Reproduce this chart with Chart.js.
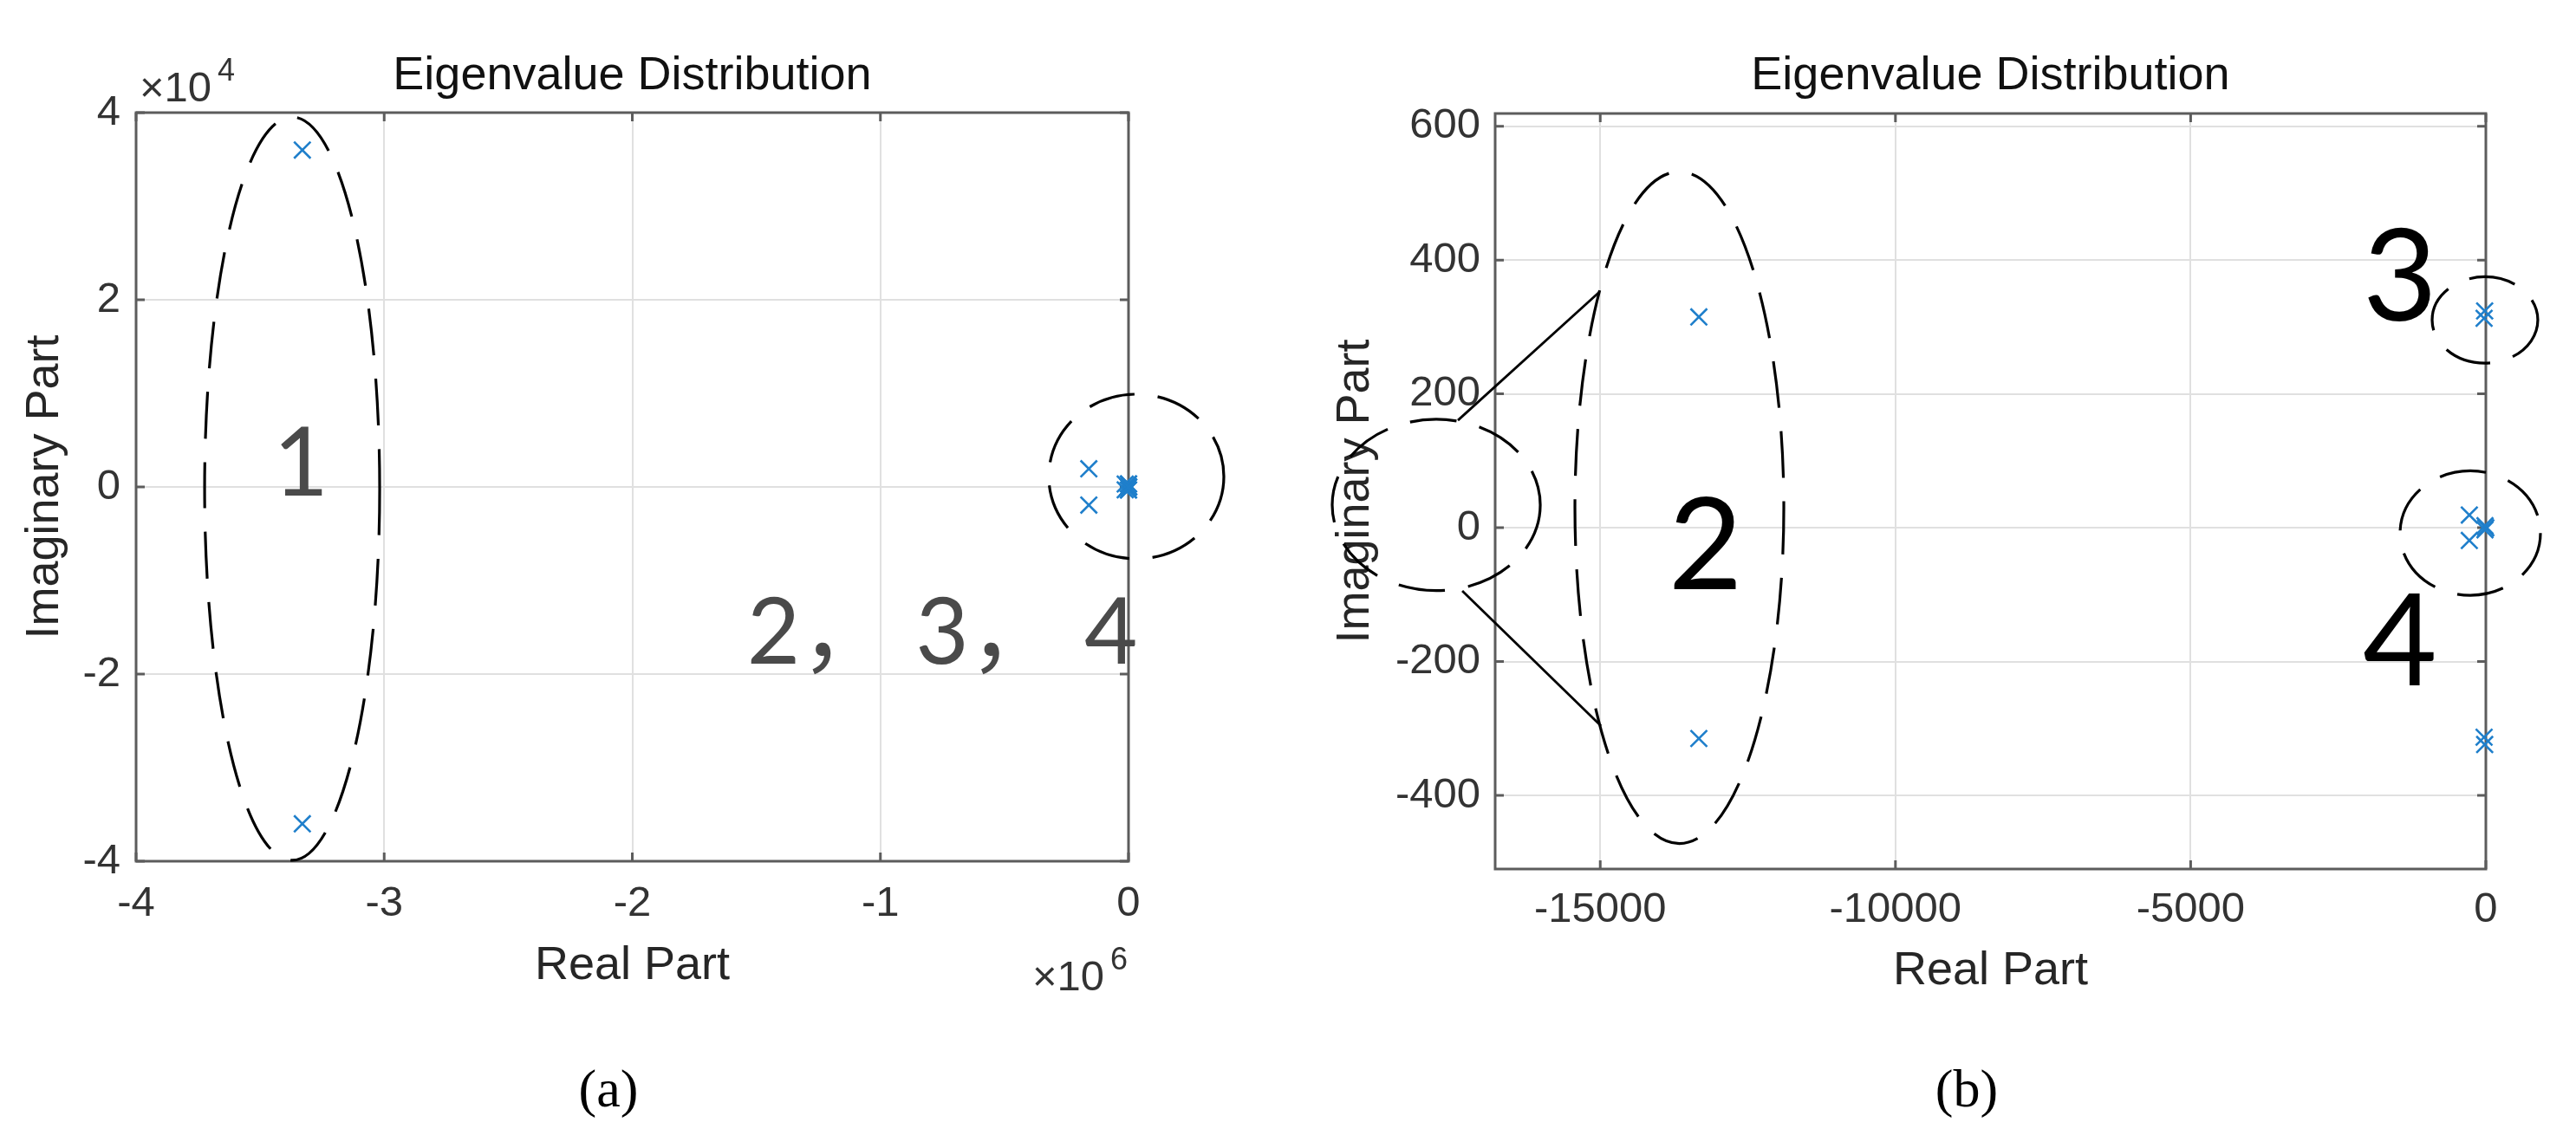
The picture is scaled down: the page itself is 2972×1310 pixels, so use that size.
<!DOCTYPE html>
<html>
<head>
<meta charset="utf-8">
<script src="https://cdn.jsdelivr.net/npm/chart.js@4.4.1/dist/chart.umd.min.js"></script>
<style>
  html, body { margin: 0; padding: 0; background: #fff; }
  body { width: 2972px; height: 1310px; position: relative; overflow: hidden; }
  canvas { position: absolute; top: 0; }
  #chartA { left: 0; }
  #chartB { left: 1480px; }
  .caption { position: absolute; top: 1225px; font: 62px/62px "Liberation Serif", "Times New Roman", serif; color: #000; transform: translateX(-50%); white-space: nowrap; }
</style>
</head>
<body>
<canvas id="chartA" width="1480" height="1200"></canvas>
<canvas id="chartB" width="1492" height="1200"></canvas>
<div class="caption" style="left:702px">(a)</div>
<div class="caption" style="left:2269px">(b)</div>
<script>
// eigenvalues (b is a zoom of the cluster near 0 in a)
const eigReal = [-3.33e6, -3.33e6, -1.6e5, -1.6e5, -13330, -13330, -30, -30, -20, -20, -280, -280, 0, -15, -15];
const eigImag = [36000, -36000, 1940, -1940, 315, -315, 313, -313, 324, -324, 19, -19, 0, 3, -3];

const ticksAx = [-4e6, -3e6, -2e6, -1e6, 0];
const ticksAy = [-4e4, -2e4, 0, 2e4, 4e4];
const ticksBx = [-15000, -10000, -5000, 0];
const ticksBy = [-400, -200, 0, 200, 400, 600];

const FONT = '"Liberation Sans", Arial, sans-serif';
const points = eigReal.map((re, i) => ({ x: re, y: eigImag[i] }));

// box, inward ticks, dashed rings, labels and exponents
const overlay = {
  id: 'overlay',
  beforeDatasetsDraw(chart) {
    const { ctx, chartArea: a, scales: { x, y } } = chart;
    ctx.save();
    ctx.strokeStyle = '#5c5c5c';
    ctx.lineWidth = 3;
    ctx.beginPath();
    x.ticks.forEach(t => {
      const p = x.getPixelForValue(t.value);
      ctx.moveTo(p, a.top); ctx.lineTo(p, a.top + 10);
      ctx.moveTo(p, a.bottom); ctx.lineTo(p, a.bottom - 10);
    });
    y.ticks.forEach(t => {
      const p = y.getPixelForValue(t.value);
      ctx.moveTo(a.left, p); ctx.lineTo(a.left + 10, p);
      ctx.moveTo(a.right, p); ctx.lineTo(a.right - 10, p);
    });
    ctx.stroke();
    ctx.strokeRect(a.left, a.top, a.right - a.left, a.bottom - a.top);
    ctx.restore();
  },
  afterDraw(chart, args, o) {
    const { ctx, chartArea: a, scales: { x, y } } = chart;
    ctx.save();
    ctx.strokeStyle = '#000';
    ctx.lineWidth = 3.2;
    ctx.setLineDash([54, 27]);
    (o.rings || []).forEach(r => {
      const cx = x.getPixelForValue(r.x), cy = y.getPixelForValue(r.y);
      const rx = Math.abs(x.getPixelForValue(r.x + r.rx) - cx);
      const ry = Math.abs(y.getPixelForValue(r.y + r.ry) - cy);
      ctx.beginPath();
      ctx.ellipse(cx, cy, rx, ry, 0, 0, Math.PI * 2);
      ctx.stroke();
    });
    ctx.setLineDash([]);
    ctx.lineWidth = 2.8;
    (o.leaders || []).forEach(l => {
      ctx.beginPath();
      ctx.moveTo(x.getPixelForValue(l.x1), y.getPixelForValue(l.y1));
      ctx.lineTo(x.getPixelForValue(l.x2), y.getPixelForValue(l.y2));
      ctx.stroke();
    });
    ctx.textAlign = 'center';
    ctx.textBaseline = 'alphabetic';
    (o.labels || []).forEach(t => {
      ctx.font = t.font;
      ctx.fillStyle = t.color;
      ctx.fillText(t.text, x.getPixelForValue(t.x), y.getPixelForValue(t.y));
    });
    ctx.textAlign = 'left';
    ctx.fillStyle = '#333';
    (o.exps || []).forEach(e => {
      const bx = (e.side === 'left' ? a.left : a.right) + e.dx;
      const by = (e.edge === 'top' ? a.top : a.bottom) + e.dy;
      ctx.font = '49px ' + FONT;
      ctx.fillText('×10', bx, by);
      const w = ctx.measureText('×10').width;
      ctx.font = '36px ' + FONT;
      ctx.fillText(e.pow, bx + w + 7, by - 24);
    });
    ctx.restore();
  }
};

function makeChart(id, s) {
  const tickFont = { family: FONT, size: 49 };
  const labelFont = { family: FONT, size: 54 };
  return new Chart(document.getElementById(id), {
    type: 'scatter',
    data: {
      datasets: [{
        data: points,
        pointStyle: 'crossRot',
        pointRadius: 13.5,
        pointHoverRadius: 13.5,
        borderColor: '#1f7fcb',
        pointBorderWidth: 2.6,
        clip: 14
      }]
    },
    options: {
      responsive: false,
      animation: false,
      devicePixelRatio: 1,
      layout: { padding: s.pad },
      plugins: {
        legend: { display: false },
        tooltip: { enabled: false },
        title: {
          display: true,
          text: 'Eigenvalue Distribution',
          fullSize: false,
          color: '#111',
          font: { family: FONT, size: 54, weight: 'normal' },
          padding: { top: 56, bottom: s.titleGap }
        },
        overlay: s.notes
      },
      scales: {
        x: {
          type: 'linear',
          min: s.xMin, max: s.xMax,
          afterBuildTicks: sc => { sc.ticks = s.xTicks.map(v => ({ value: v })); },
          afterFit: sc => { sc.height = s.xH; },
          grid: { color: '#e0e0e0', lineWidth: 2, drawTicks: false },
          border: { display: false },
          ticks: { padding: s.xPad, color: '#333', font: tickFont, maxRotation: 0, callback: v => String(v / s.xDiv) },
          title: { display: true, text: 'Real Part', color: '#262626', font: labelFont, padding: 0 }
        },
        y: {
          type: 'linear',
          min: s.yMin, max: s.yMax,
          afterBuildTicks: sc => { sc.ticks = s.yTicks.map(v => ({ value: v })); },
          afterFit: sc => { sc.width = s.yW; },
          grid: { color: '#e0e0e0', lineWidth: 2, drawTicks: false },
          border: { display: false },
          ticks: { padding: s.yPad, color: '#333', font: tickFont, callback: v => String(v / s.yDiv) },
          title: { display: true, text: 'Imaginary Part', color: '#262626', font: labelFont, padding: { top: s.yTitlePad, bottom: 0 } }
        }
      }
    },
    plugins: [overlay]
  });
}

makeChart('chartA', {
  pad: { left: 0, right: 178, top: 0, bottom: 52 },
  titleGap: 9.2,
  xMin: -4e6, xMax: 0, xTicks: ticksAx, xDiv: 1e6, xH: 154, xPad: 20,
  yMin: -4e4, yMax: 4e4, yTicks: ticksAy, yDiv: 1e4, yW: 157, yPad: 18, yTitlePad: 20,
  notes: {
    rings: [
      { x: -3.371e6, y: -185, rx: 352800, ry: 39720 },
      { x: 31400, y: 1111, rx: 352800, ry: 8796 }
    ],
    labels: [
      { text: '1', x: -3.336e6, y: -880, font: '110px Lato', color: '#4a4a4a' },
      { text: '2， 3， 4', x: -0.751e6, y: -18889, font: '106px Lato, "Noto Sans CJK SC"', color: '#4a4a4a' }
    ],
    exps: [
      { pow: '4', side: 'left', edge: 'top', dx: 4, dy: -13 },
      { pow: '6', side: 'right', edge: 'bottom', dx: -111, dy: 149 }
    ]
  }
});

makeChart('chartB', {
  pad: { left: 0, right: 104, top: 0, bottom: 46 },
  titleGap: 10.2,
  xMin: -16780, xMax: 0, xTicks: ticksBx, xDiv: 1, xH: 151, xPad: 18,
  yMin: -510, yMax: 619, yTicks: ticksBy, yDiv: 1, yW: 245, yPad: 17, yTitlePad: 52,
  notes: {
    rings: [
      { x: -13660, y: 30, rx: 1769, ry: 502 },
      { x: -17778, y: 34, rx: 1762, ry: 128 },
      { x: -15, y: 310.5, rx: 895, ry: 64.5 },
      { x: -264, y: -8, rx: 1189, ry: 93 }
    ],
    leaders: [
      { x1: -17411, y1: 160.5, x2: -15018, y2: 352 },
      { x1: -17337, y1: -94.5, x2: -14988, y2: -296 }
    ],
    labels: [
      { text: '2', x: -13219, y: -92, font: '148px Lato', color: '#000' },
      { text: '3', x: -1453, y: 309, font: '148px Lato', color: '#000' },
      { text: '4', x: -1453, y: -235.5, font: '148px Lato', color: '#000' }
    ]
  }
});
</script>
</body>
</html>
